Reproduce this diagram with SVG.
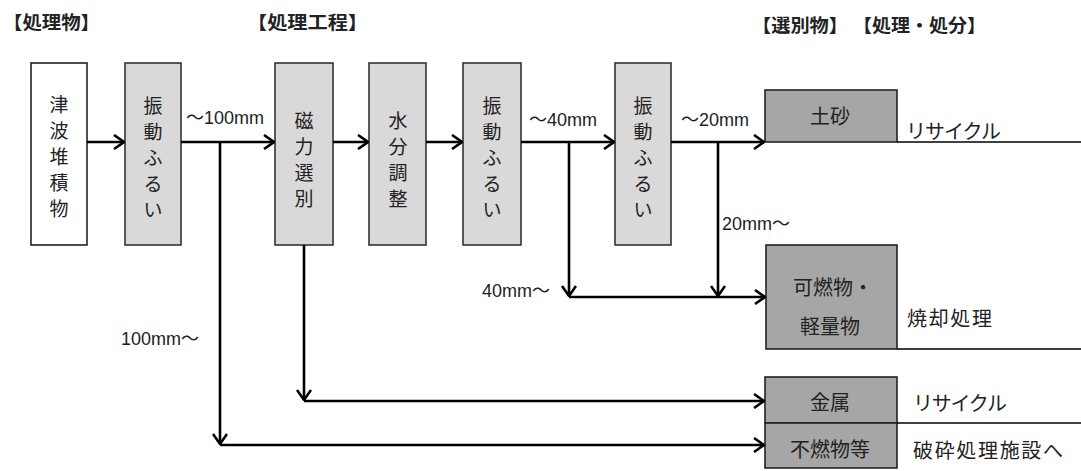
<svg xmlns="http://www.w3.org/2000/svg" width="1081" height="471" viewBox="0 0 1081 471">
<style>
text{font-family:"Noto Sans CJK JP","Noto Sans CJK SC",sans-serif;fill:#222}
.hd{font-size:18px;font-weight:bold}
.bx{font-size:20px;text-anchor:middle}
.v{font-size:19px;text-anchor:middle}
.lb{font-size:18px;font-family:"Liberation Sans","Noto Sans CJK JP",sans-serif}
.jp{font-size:20px}
.p{fill:#d9d9d9;stroke:#333;stroke-width:1.6}
.w{fill:#fff;stroke:#222;stroke-width:1.6}
.o{fill:#a6a6a6;stroke:#222;stroke-width:1.6}
.c{fill:none;stroke:#000;stroke-width:2.6}
.t{fill:none;stroke:#000;stroke-width:1.4}
</style>
<defs>
<marker id="ah" viewBox="0 0 12 16" refX="11" refY="8" markerWidth="12" markerHeight="16" markerUnits="userSpaceOnUse" orient="auto">
<path d="M1,1 L11,8 L1,15" fill="none" stroke="#000" stroke-width="2.6"/>
</marker>
</defs>
<g id="headers">
<text class="hd" x="3" y="29" textLength="97" lengthAdjust="spacingAndGlyphs">【処理物】</text>
<text class="hd" x="247" y="29" textLength="121" lengthAdjust="spacingAndGlyphs">【処理工程】</text>
<text class="hd" x="752" y="32" textLength="96" lengthAdjust="spacingAndGlyphs">【選別物】</text>
<text class="hd" x="853" y="32" textLength="133" lengthAdjust="spacingAndGlyphs">【処理・処分】</text>
</g>
<g id="n-tsunami"><rect class="w" x="31" y="63" width="56" height="182"/>
<text class="v" x="59"><tspan x="59" y="112">津</tspan><tspan x="59" y="138">波</tspan><tspan x="59" y="164">堆</tspan><tspan x="59" y="190">積</tspan><tspan x="59" y="216">物</tspan></text></g>
<g id="n-sieve1"><rect class="p" x="125" y="63" width="56" height="182"/>
<text class="v" x="153"><tspan x="153" y="113">振</tspan><tspan x="153" y="139">動</tspan><tspan x="153" y="165">ふ</tspan><tspan x="153" y="191">る</tspan><tspan x="153" y="217">い</tspan></text></g>
<g id="n-magnet"><rect class="p" x="275" y="63" width="58" height="182"/>
<text class="v" x="304"><tspan x="304" y="128">磁</tspan><tspan x="304" y="154">力</tspan><tspan x="304" y="180">選</tspan><tspan x="304" y="206">別</tspan></text></g>
<g id="n-water"><rect class="p" x="369" y="63" width="57" height="182"/>
<text class="v" x="398"><tspan x="398" y="128">水</tspan><tspan x="398" y="154">分</tspan><tspan x="398" y="180">調</tspan><tspan x="398" y="206">整</tspan></text></g>
<g id="n-sieve2"><rect class="p" x="463" y="63" width="58" height="182"/>
<text class="v" x="492"><tspan x="492" y="113">振</tspan><tspan x="492" y="139">動</tspan><tspan x="492" y="165">ふ</tspan><tspan x="492" y="191">る</tspan><tspan x="492" y="217">い</tspan></text></g>
<g id="n-sieve3"><rect class="p" x="615" y="63" width="56" height="182"/>
<text class="v" x="643"><tspan x="643" y="113">振</tspan><tspan x="643" y="139">動</tspan><tspan x="643" y="165">ふ</tspan><tspan x="643" y="191">る</tspan><tspan x="643" y="217">い</tspan></text></g>
<g id="n-soil"><rect class="o" x="765" y="90" width="132" height="52"/>
<text class="bx" x="830" y="124">土砂</text>
<text class="jp" x="906" y="139" textLength="95">リサイクル</text></g>
<g id="n-burn"><rect class="o" x="766" y="245" width="131" height="104"/>
<text class="bx" x="833" y="295">可燃物・</text>
<text class="bx" x="830" y="334">軽量物</text>
<text class="jp" x="907" y="326" textLength="85">焼却処理</text></g>
<g id="n-metal"><rect class="o" x="765" y="377" width="132" height="46"/>
<text class="bx" x="830" y="410">金属</text>
<text class="jp" x="913" y="411" textLength="94">リサイクル</text></g>
<g id="n-incomb"><rect class="o" x="765" y="423" width="132" height="45"/>
<text class="bx" x="830" y="457">不燃物等</text>
<text class="jp" x="913" y="458" textLength="150">破砕処理施設へ</text></g>
<g id="labels">
<text class="lb" x="186" y="124">～100mm</text>
<text class="lb" x="529" y="126">～40mm</text>
<text class="lb" x="681" y="126">～20mm</text>
<text class="lb" x="722" y="230">20mm～</text>
<text class="lb" x="482" y="297">40mm～</text>
<text class="lb" x="121" y="345">100mm～</text>
</g>
<g id="connectors">
<line class="c" x1="87" y1="142" x2="124" y2="142" marker-end="url(#ah)"/>
<line class="c" x1="181" y1="142" x2="274" y2="142" marker-end="url(#ah)"/>
<line class="c" x1="333" y1="142" x2="368" y2="142" marker-end="url(#ah)"/>
<line class="c" x1="426" y1="142" x2="462" y2="142" marker-end="url(#ah)"/>
<line class="c" x1="521" y1="142" x2="614" y2="142" marker-end="url(#ah)"/>
<line class="c" x1="671" y1="142" x2="764" y2="142" marker-end="url(#ah)"/>
<line class="c" x1="220" y1="142" x2="220" y2="444" marker-end="url(#ah)"/>
<line class="c" x1="220" y1="445" x2="764" y2="445" marker-end="url(#ah)"/>
<line class="c" x1="304" y1="245" x2="304" y2="400" marker-end="url(#ah)"/>
<line class="c" x1="304" y1="401" x2="764" y2="401" marker-end="url(#ah)"/>
<line class="c" x1="569" y1="142" x2="569" y2="296" marker-end="url(#ah)"/>
<line class="c" x1="718" y1="142" x2="718" y2="296" marker-end="url(#ah)"/>
<line class="c" x1="569" y1="297" x2="765" y2="297" marker-end="url(#ah)"/>
<line class="t" x1="897" y1="142" x2="1081" y2="142"/>
<line class="t" x1="897" y1="349" x2="1081" y2="349"/>
<line class="t" x1="897" y1="423" x2="1081" y2="423"/>
</g>
</svg>
